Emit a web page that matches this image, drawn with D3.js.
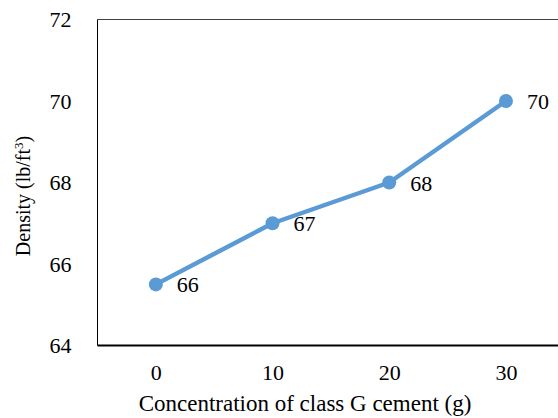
<!DOCTYPE html>
<html><head><meta charset="utf-8">
<script src="https://cdn.jsdelivr.net/npm/d3@7"></script>
<style>body{margin:0;background:#fff}svg{display:block}</style>
</head><body>
<script>
const categories = ["0", "10", "20", "30"];
const densities = [65.5, 67, 68, 70];
const dataLabels = ["66", "67", "68", "70"];
const yTicks = [64, 66, 68, 70, 72];
const xTitle = "Concentration of class G cement (g)";

(function () {
const W = 558, H = 418;
const font = "'Liberation Serif','Times New Roman',serif";
const svg = d3.select("body").append("svg").attr("width", W).attr("height", H);

const pLeft = 97.5, pTop = 19.5, pBottom = 345.5, pRight = 564.3;
const x = d3.scalePoint().domain(categories).range([pLeft, pRight]).padding(0.5);
const y = d3.scaleLinear().domain([64, 72]).range([pBottom, pTop]);

// plot frame
svg.append("line").attr("x1", pLeft).attr("x2", pRight).attr("y1", pTop).attr("y2", pTop)
  .attr("stroke", "#404040").attr("stroke-width", 1);
svg.append("line").attr("x1", pLeft).attr("x2", pLeft).attr("y1", pTop).attr("y2", pBottom)
  .attr("stroke", "#000").attr("stroke-width", 1);
svg.append("line").attr("x1", pLeft).attr("x2", pRight).attr("y1", pBottom).attr("y2", pBottom)
  .attr("stroke", "#000").attr("stroke-width", 2);

// y axis labels
const yAxis = d3.axisLeft(y).tickValues(yTicks).tickSize(0).tickPadding(26).tickFormat(d3.format("d"));
const yg = svg.append("g").attr("transform", `translate(${pLeft},0)`).call(yAxis);
yg.select(".domain").remove();
yg.selectAll("text").attr("font-family", font).attr("font-size", 22).attr("fill", "#000");

// x axis labels
const xAxis = d3.axisBottom(x).tickSize(0).tickPadding(19);
const xg = svg.append("g").attr("transform", `translate(0,${pBottom})`).call(xAxis);
xg.select(".domain").remove();
xg.selectAll("text").attr("font-family", font).attr("font-size", 22).attr("fill", "#000");

// titles
svg.append("text").attr("x", 305).attr("y", 411).attr("text-anchor", "middle")
  .attr("font-family", font).attr("font-size", 23).attr("fill", "#000").text(xTitle);
const yt = svg.append("text").attr("transform", "translate(30,196) rotate(-90)")
  .attr("text-anchor", "middle").attr("font-family", font).attr("font-size", 20).attr("fill", "#000");
yt.append("tspan").text("Density (lb/ft");
yt.append("tspan").attr("font-size", 13).attr("dy", -7).text("3");
yt.append("tspan").attr("dy", 7).text(")");

// line
const pts = categories.map((c, i) => ({c, v: densities[i], l: dataLabels[i]}));
svg.append("path").datum(pts)
  .attr("d", d3.line().x(d => x(d.c)).y(d => y(d.v)))
  .attr("fill", "none").attr("stroke", "#5B9BD5").attr("stroke-width", 4.5).attr("stroke-linejoin", "round");
svg.selectAll("circle.pt").data(pts).join("circle").attr("class", "pt")
  .attr("cx", d => x(d.c)).attr("cy", d => y(d.v)).attr("r", 7).attr("fill", "#5B9BD5");
svg.selectAll("text.lbl").data(pts).join("text").attr("class", "lbl")
  .attr("x", d => x(d.c) + 21).attr("y", d => y(d.v) + 8)
  .attr("font-family", font).attr("font-size", 22).attr("fill", "#000").text(d => d.l);
})();
</script>
</body></html>
